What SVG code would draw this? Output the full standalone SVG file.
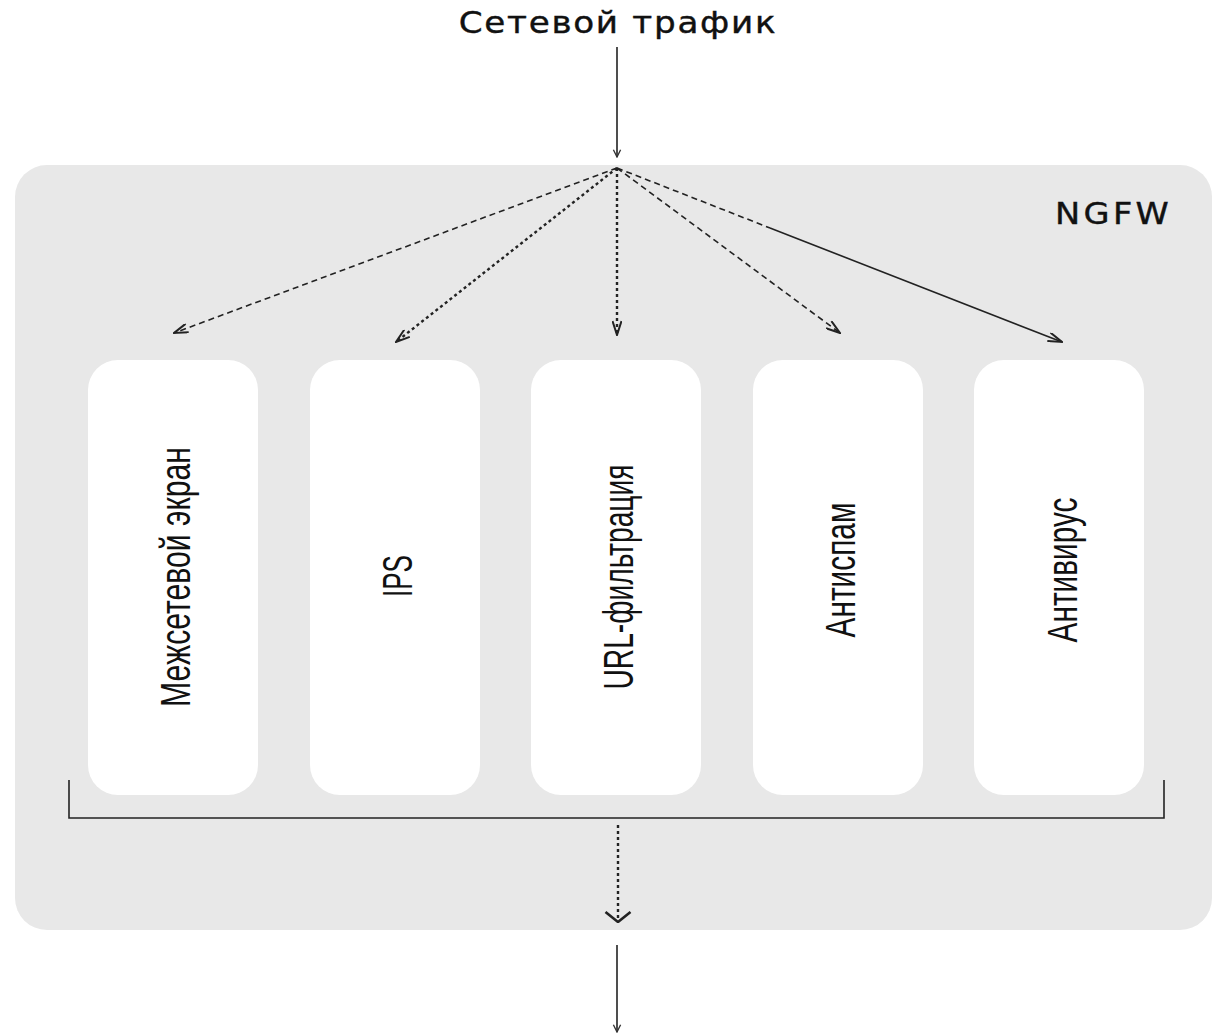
<svg xmlns="http://www.w3.org/2000/svg" width="1225" height="1036" viewBox="0 0 1225 1036">
<defs>
<style>
.lbl{font-family:"DejaVu Sans","Liberation Sans",sans-serif;fill:#111}
.vt{font-family:"Liberation Sans",Arial,sans-serif;font-size:43px;fill:#111}
.box{fill:#ffffff}
.c{fill:none;stroke:#222;stroke-width:1.6}
.dot{stroke-dasharray:3 3;stroke-width:2.4}
.dash{stroke-dasharray:6 4}
</style>
<marker id="ah" viewBox="0 0 16 10" refX="15" refY="5" markerWidth="16" markerHeight="10" markerUnits="userSpaceOnUse" orient="auto">
<path d="M1,0.5 L15,5 L1,9.5" fill="none" stroke="#222" stroke-width="2"/>
</marker>
<marker id="ahs" viewBox="0 0 10 10" refX="9" refY="5" markerWidth="9" markerHeight="10" markerUnits="userSpaceOnUse" orient="auto">
<path d="M1,1 L9,5 L1,9" fill="none" stroke="#333" stroke-width="1.5"/>
</marker>
<marker id="ahb" viewBox="0 0 12 28" refX="11" refY="14" markerWidth="12" markerHeight="28" markerUnits="userSpaceOnUse" orient="auto">
<path d="M1,1.5 L11,14 L1,26.5" fill="none" stroke="#222" stroke-width="2.6"/>
</marker>
</defs>
<rect width="1225" height="1036" fill="#ffffff"/>
<text class="lbl" transform="translate(618,33) scale(1.14,1)" font-size="30" letter-spacing="1.5" text-anchor="middle" stroke="#111" stroke-width="0.4">Сетевой трафик</text>
<g id="ngfw">
<rect x="15" y="165" width="1197" height="765" rx="32" fill="#e8e8e8"/>
<text class="lbl" transform="translate(1055,224) scale(1.12,1)" font-size="30" letter-spacing="3" stroke="#111" stroke-width="0.4">NGFW</text>
</g>
<g id="firewall">
<rect class="box" x="88" y="360" width="170" height="435" rx="30"/>
<text class="vt" transform="translate(190,577) rotate(-90)" text-anchor="middle" textLength="260" lengthAdjust="spacingAndGlyphs">Межсетевой экран</text>
</g>
<g id="ips">
<rect class="box" x="310" y="360" width="170" height="435" rx="30"/>
<text class="vt" transform="translate(412,576) rotate(-90)" text-anchor="middle" textLength="42" lengthAdjust="spacingAndGlyphs">IPS</text>
</g>
<g id="url">
<rect class="box" x="531" y="360" width="170" height="435" rx="30"/>
<text class="vt" transform="translate(633,577) rotate(-90)" text-anchor="middle" textLength="225" lengthAdjust="spacingAndGlyphs">URL-фильтрация</text>
</g>
<g id="antispam">
<rect class="box" x="753" y="360" width="170" height="435" rx="30"/>
<text class="vt" transform="translate(855,570) rotate(-90)" text-anchor="middle" textLength="135" lengthAdjust="spacingAndGlyphs">Антиспам</text>
</g>
<g id="antivirus">
<rect class="box" x="974" y="360" width="170" height="435" rx="30"/>
<text class="vt" transform="translate(1077,570) rotate(-90)" text-anchor="middle" textLength="145" lengthAdjust="spacingAndGlyphs">Антивирус</text>
</g>
<g id="connectors">
<line class="c" x1="617" y1="47" x2="617" y2="157" stroke-width="1.4" marker-end="url(#ahs)"/>
<line class="c dash" x1="617" y1="168" x2="174" y2="333" stroke-width="1.6" marker-end="url(#ah)"/>
<line class="c dot" x1="617" y1="168" x2="396" y2="342" marker-end="url(#ah)"/>
<line class="c dot" x1="617" y1="168" x2="617" y2="335" marker-end="url(#ah)"/>
<line class="c dash" x1="617" y1="168" x2="840" y2="333" stroke-width="2" marker-end="url(#ah)"/>
<line class="c dash" x1="617" y1="168" x2="770" y2="228" stroke-width="1.8"/>
<line class="c" x1="770" y1="228" x2="1062" y2="342" stroke-width="1.3" marker-end="url(#ah)"/>
<path class="c" d="M69,780 V818 H1164 V780" stroke-width="1.4"/>
<line class="c dot" x1="618" y1="825" x2="618" y2="922" marker-end="url(#ahb)"/>
<line class="c" x1="617" y1="945" x2="617" y2="1032" stroke-width="1.4" marker-end="url(#ahs)"/>
</g>
</svg>
